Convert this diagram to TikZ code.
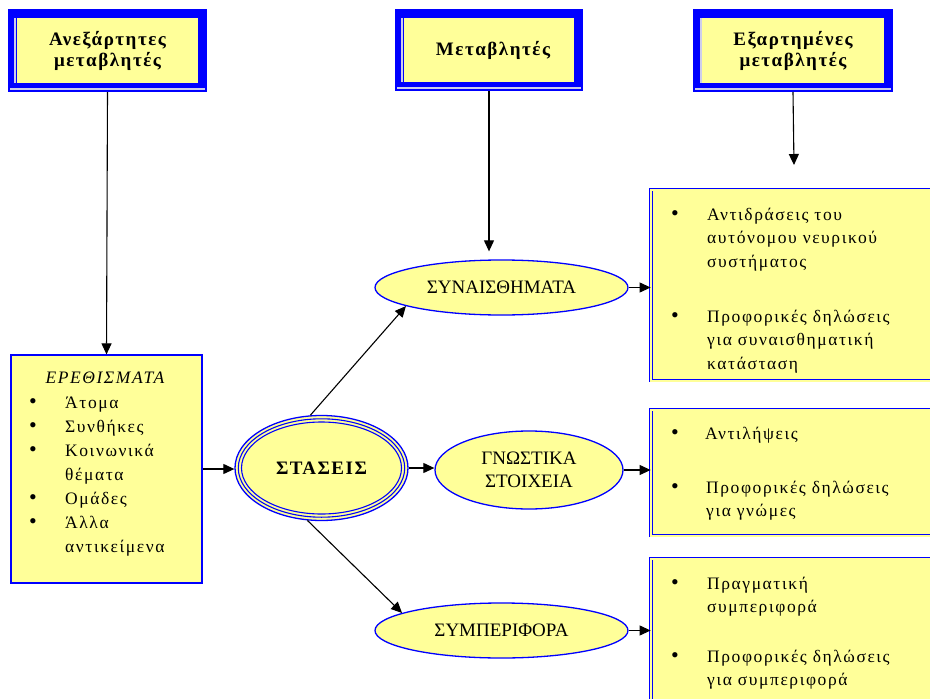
\documentclass[tikz,border=0pt]{standalone}
\usepackage{fontspec}
\setmainfont{Liberation Serif}
\newfontfamily\bodyfont[LetterSpace=9]{Liberation Serif}
\newfontfamily\hdrfont[LetterSpace=8]{Liberation Serif}
\usetikzlibrary{shapes.geometric,arrows.meta}
\definecolor{yel}{RGB}{255,255,153}
\definecolor{bl}{RGB}{0,0,255}
\definecolor{shine}{RGB}{205,205,235}
\newcommand\rows[1]{\begin{tabular}[t]{@{}l@{}}#1\end{tabular}}
\begin{document}
\begin{tikzpicture}[x=1pt,y=-1pt,
  hdr/.style={rectangle,draw=bl,line width=9pt,fill=yel,inner sep=0pt,align=center,
    font=\hdrfont\fontsize{19}{21}\selectfont\bfseries},
  lbox/.style={rectangle,draw=bl,line width=1.2pt,fill=yel,inner sep=0pt},
  rbox/.style={rectangle,draw=bl,double=yel,double distance=2pt,line width=0.8pt,fill=yel,inner sep=0pt},
  ell/.style={ellipse,draw=bl,line width=1.3pt,fill=yel,inner sep=0pt,align=center,
    font=\fontsize{19}{23}\selectfont},
  txt/.style={inner sep=0pt,anchor=base west,font=\bodyfont\fontsize{17.5}{24}\selectfont},
  rtxt/.style={inner sep=0pt,anchor=base west,font=\bodyfont\fontsize{17.5}{23.5}\selectfont},
  bul/.style={inner sep=0pt,anchor=base,font=\fontsize{22}{24}\selectfont},
  arr/.style={-{Triangle[length=11pt,width=10pt]},line width=1.1pt,black},
  shineline/.style={draw=shine,line width=1.4pt}
]
\clip (0,0) rectangle (930,699);
\fill[white] (0,0) rectangle (930,699);

% header boxes
\node[hdr,minimum width=190pt,minimum height=74pt] (h1) at (107.5,50.5) {Ανεξάρτητες\\μεταβλητές};
\node[hdr,minimum width=179pt,minimum height=73pt] (h2) at (489,50) {\hspace*{8pt}Μεταβλητές};
\node[hdr,minimum width=191pt,minimum height=74pt] (h3) at (793,50.5) {Εξαρτημένες\\μεταβλητές};
\draw[shineline] (15,18) -- (15,83);
\draw[shineline] (10,89) -- (205,89);
\draw[shineline] (402,18) -- (402,82);
\draw[shineline] (397,88) -- (581,88);
\draw[shineline] (701,18) -- (701,83);
\draw[shineline] (695,89) -- (891,89);

% left stimulus box
\node[lbox,minimum width=191pt,minimum height=228pt] (stim) at (106.5,469) {};
\node[inner sep=0pt,anchor=base,font=\bodyfont\fontsize{17.5}{24}\selectfont\itshape] (stitle) at (105,383) {ΕΡΕΘΙΣΜΑΤΑ};
\node[bul] (sb1) at (33,408) {•};
\node[txt] (st1) at (65,408) {Άτομα};
\node[bul] (sb2) at (33,432) {•};
\node[txt] (st2) at (65,432) {Συνθήκες};
\node[bul] (sb3) at (33,456) {•};
\node[txt] (st3) at (65,456) {\rows{Κοινωνικά\\θέματα}};
\node[bul] (sb4) at (33,504) {•};
\node[txt] (st4) at (65,504) {Ομάδες};
\node[bul] (sb5) at (33,528) {•};
\node[txt] (st5) at (65,528) {\rows{Άλλα\\αντικείμενα}};

% central ellipse
\node[ell,minimum width=173pt,minimum height=105pt,font=\hdrfont\fontsize{19}{23}\selectfont\bfseries] (sta) at (321.5,468) {ΣΤΑΣΕΙΣ};
\draw[bl,line width=1.1pt] (sta.center) ellipse [x radius=83.2pt,y radius=49.2pt];
\draw[bl,line width=1.1pt] (sta.center) ellipse [x radius=80pt,y radius=46pt];

% component ellipses
\node[ell,minimum width=253pt,minimum height=55pt] (syn) at (501.5,287.5) {ΣΥΝΑΙΣΘΗΜΑΤΑ};
\node[ell,minimum width=188pt,minimum height=78pt] (gno) at (529,470) {ΓΝΩΣΤΙΚΑ\\ΣΤΟΙΧΕΙΑ};
\node[ell,minimum width=253pt,minimum height=55pt] (sym) at (501.5,630.5) {ΣΥΜΠΕΡΙΦΟΡΑ};

% right boxes
\node[rbox,minimum width=283pt,minimum height=191pt] (b1) at (792.5,285) {};
\node[rbox,minimum width=283pt,minimum height=126pt] (b2) at (792.5,472.5) {};
\node[rbox,minimum width=283pt,minimum height=160pt] (b3) at (792.5,638.5) {};

\node[bul] (r1b1) at (675,220) {•};
\node[rtxt] (r1t1) at (707,220) {\rows{Αντιδράσεις του\\αυτόνομου νευρικού\\συστήματος}};
\node[bul] (r1b2) at (675,322) {•};
\node[rtxt] (r1t2) at (707,322) {\rows{Προφορικές δηλώσεις\\για συναισθηματική\\κατάσταση}};
\node[bul] (r2b1) at (675,439) {•};
\node[rtxt] (r2t1) at (705,439) {Αντιλήψεις};
\node[bul] (r2b2) at (675,493) {•};
\node[rtxt] (r2t2) at (706,493) {\rows{Προφορικές δηλώσεις\\για γνώμες}};
\node[bul] (r3b1) at (675,589) {•};
\node[rtxt] (r3t1) at (707,589) {\rows{Πραγματική\\συμπεριφορά}};
\node[bul] (r3b2) at (675,662) {•};
\node[rtxt] (r3t2) at (707,662) {\rows{Προφορικές δηλώσεις\\για συμπεριφορά}};

% connectors
\coordinate (h3end) at (794,165);
\draw[arr] (h1.south) -- (stim.north);
\draw[arr,shorten >=8pt] (h2.south) -- (h2.south |- syn.north);
\draw[arr] (h3.south) -- (h3end);
\draw[arr] (stim.east) -- (stim.east -| sta.west);
\draw[arr] (sta.east) -- (sta.east -| gno.west);
\draw[arr] (sta.102) -- (syn.191);
\draw[arr] (sta.255) -- (sym.170);
\draw[arr] (syn.east) -- (syn.east -| b1.west);
\draw[arr] (gno.east) -- (gno.east -| b2.west);
\draw[arr] (sym.east) -- (sym.east -| b3.west);
\end{tikzpicture}
\end{document}
